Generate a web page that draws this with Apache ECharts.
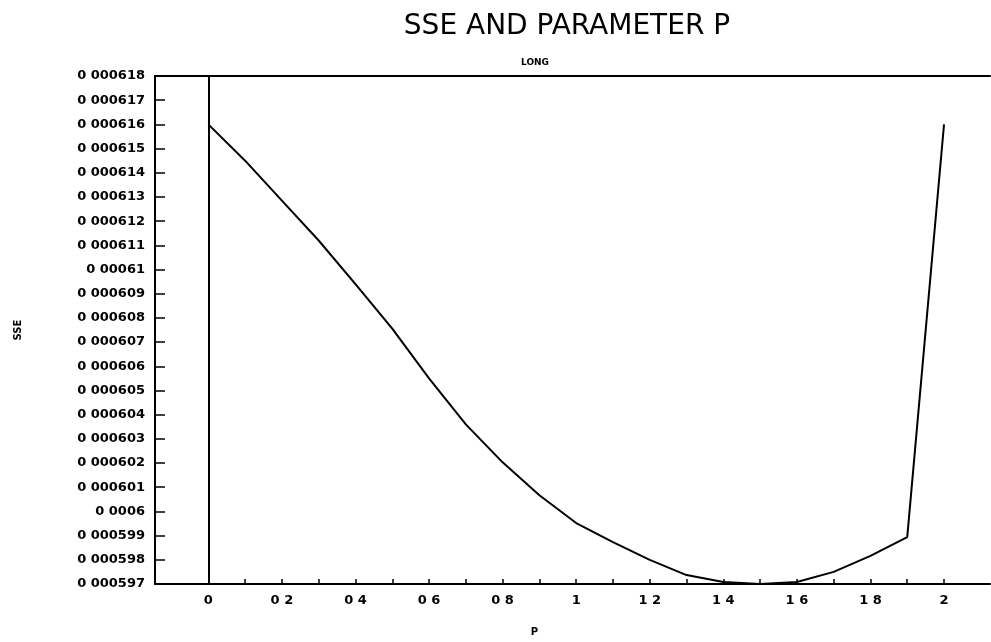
<!DOCTYPE html>
<html>
<head>
<meta charset="utf-8">
<script src="https://cdn.jsdelivr.net/npm/echarts@6/dist/echarts.min.js"></script>
<style>
  html, body { margin: 0; padding: 0; background: #fff; }
  #main { width: 991px; height: 642px; }
</style>
</head>
<body>
<div id="main"></div>
<script>
// values
var pValues = [0, 0.1, 0.2, 0.3, 0.4, 0.5, 0.6, 0.7, 0.8, 0.9, 1.0,
               1.1, 1.2, 1.3, 1.4, 1.5, 1.6, 1.7, 1.8, 1.9, 2.0];
var sseValues = [0.0006160, 0.0006145, 0.00061285, 0.0006112, 0.0006094,
                 0.00060756, 0.0006055, 0.0006036, 0.00060203, 0.00060067,
                 0.00059952, 0.00059873, 0.0005980, 0.00059737, 0.00059708,
                 0.0005970, 0.00059708, 0.0005975, 0.00059816, 0.00059894,
                 0.0006160];
var yTicks = [0.000597, 0.000598, 0.000599, 0.0006, 0.000601, 0.000602,
              0.000603, 0.000604, 0.000605, 0.000606, 0.000607, 0.000608,
              0.000609, 0.00061, 0.000611, 0.000612, 0.000613, 0.000614,
              0.000615, 0.000616, 0.000617, 0.000618];
var xLabels = [0, 0.2, 0.4, 0.6, 0.8, 1, 1.2, 1.4, 1.6, 1.8, 2];
var xTicks = [0.1, 0.2, 0.3, 0.4, 0.5, 0.6, 0.7, 0.8, 0.9, 1, 1.1, 1.2,
              1.3, 1.4, 1.5, 1.6, 1.7, 1.8, 1.9, 2];
var refLine = [0];

var chart = echarts.init(document.getElementById('main'));

var data = pValues.map(function (p, i) { return [p, sseValues[i]]; });
var font = 'DejaVu Sans';

var option = {
    backgroundColor: '#fff',
    title: [{
        text: 'SSE AND PARAMETER P',
        left: 562,
        top: 8,
        textAlign: 'center',
        textStyle: { fontFamily: font, fontSize: 28, fontWeight: 'normal', color: '#000' }
    }, {
        text: 'LONG',
        left: 530,
        top: 53,
        textAlign: 'center',
        textStyle: { fontFamily: font, fontSize: 9, fontWeight: 'bold', color: '#000' }
    }],
    grid: { left: 155, right: 1, top: 76, bottom: 57 },
    xAxis: [{
        type: 'value',
        min: -0.145,
        max: 2.125,
        name: 'P',
        nameLocation: 'middle',
        nameGap: 43,
        nameTextStyle: { fontFamily: font, fontSize: 10, fontWeight: 'bold', color: '#000', padding: [0, 76, 0, 0] },
        axisLine: { onZero: false, lineStyle: { color: '#000', width: 2 } },
        axisTick: { inside: true, length: 5, customValues: xTicks, lineStyle: { color: '#000', width: 1.5 } },
        axisLabel: {
            customValues: xLabels,
            margin: 10,
            fontFamily: font, fontSize: 13, fontWeight: 'bold', color: '#000',
            formatter: function (v) { return String(+v.toFixed(1)).replace('.', ' '); }
        },
        splitLine: { show: false }
    }, {
        type: 'value',
        position: 'top',
        min: -0.145,
        max: 2.125,
        axisLine: { onZero: false, lineStyle: { color: '#000', width: 2 } },
        axisTick: { show: false },
        axisLabel: { show: false },
        splitLine: { show: false }
    }],
    yAxis: {
        type: 'value',
        min: 0.000597,
        max: 0.000618,
        name: 'SSE',
        nameLocation: 'middle',
        nameGap: 132,
        nameTextStyle: { fontFamily: font, fontSize: 10, fontWeight: 'bold', color: '#000' },
        axisLine: { show: true, onZero: false, lineStyle: { color: '#000', width: 2 } },
        axisTick: { inside: true, length: 10, customValues: yTicks, lineStyle: { color: '#000', width: 1.5 } },
        axisLabel: {
            customValues: yTicks,
            margin: 10,
            fontFamily: font, fontSize: 13, fontWeight: 'bold', color: '#000',
            formatter: function (v) {
                return String(Math.round(v * 1e6) / 1e6).replace('.', ' ');
            }
        },
        splitLine: { show: false }
    },
    series: [{
        type: 'line',
        data: data,
        symbol: 'none',
        lineStyle: { color: '#000', width: 2 },
        silent: true,
        animation: false,
        markLine: {
            symbol: 'none',
            silent: true,
            animation: false,
            label: { show: false },
            lineStyle: { color: '#000', width: 2, type: 'solid' },
            data: refLine.map(function (x) { return { xAxis: x }; })
        }
    }]
};

chart.setOption(option);
</script>
</body>
</html>
